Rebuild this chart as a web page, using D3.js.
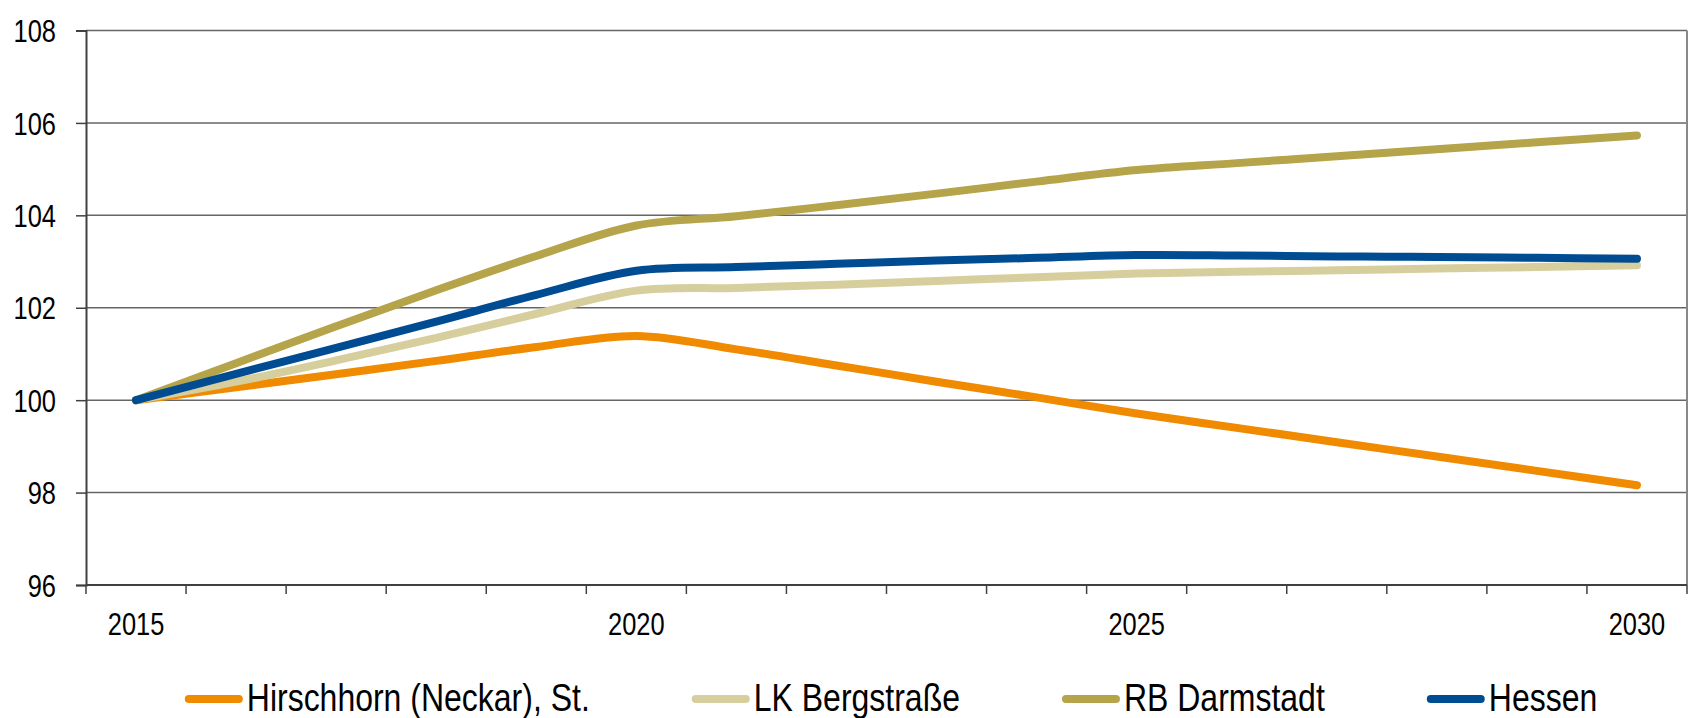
<!DOCTYPE html>
<html>
<head>
<meta charset="utf-8">
<script src="https://cdn.jsdelivr.net/npm/d3@7.8.5/dist/d3.min.js"></script>
<style>
  html, body { margin: 0; padding: 0; background: #fff; }
  svg { display: block; }
  text { font-family: "Liberation Sans", Arial, sans-serif; fill: #000; }
</style>
</head>
<body>
<div id="chart"></div>
<script>
const years = d3.range(2015, 2031);
const tickYears = [2015, 2020, 2025, 2030];
const yTicks = [96, 98, 100, 102, 104, 106, 108];

const seriesNames = ['Hirschhorn (Neckar), St.', 'LK Bergstraße', 'RB Darmstadt', 'Hessen'];
const seriesColors = ['#f08a00', '#d6cf9d', '#b5a44a', '#004c93'];

const hirschhorn = [100, 100.28, 100.56, 100.85, 101.15, 101.39, 101.1, 100.75, 100.4, 100.06, 99.71, 99.4, 99.09, 98.78, 98.47, 98.16];
const bergstrasse = [100, 100.4, 100.86, 101.35, 101.87, 102.37, 102.43, 102.5, 102.58, 102.66, 102.74, 102.78, 102.81, 102.85, 102.88, 102.92];
const darmstadt = [100, 100.8, 101.6, 102.38, 103.12, 103.78, 103.98, 104.22, 104.47, 104.73, 104.98, 105.13, 105.28, 105.43, 105.58, 105.73];
const hessen = [100, 100.57, 101.13, 101.7, 102.28, 102.8, 102.88, 102.95, 103.02, 103.08, 103.14, 103.13, 103.11, 103.1, 103.08, 103.06];

const seriesValues = [hirschhorn, bergstrasse, darmstadt, hessen];

const width = 1690, height = 718;
const margin = { top: 30.5, right: 3, bottom: 133, left: 86 };
const narrow = 0.82; // no narrow font installed, squeeze glyphs instead

const svg = d3.select('#chart')
  .append('svg')
  .attr('width', width)
  .attr('height', height);

function squeeze(sel) {
  sel.each(function () {
    const len = this.getComputedTextLength();
    this.__squeezed = len * narrow;
    d3.select(this)
      .attr('textLength', len * narrow)
      .attr('lengthAdjust', 'spacingAndGlyphs');
  });
}

const x = d3.scaleBand()
  .domain(years)
  .range([margin.left, width - margin.right]);

const y = d3.scaleLinear()
  .domain([96, 108])
  .range([height - margin.bottom, margin.top]);

const cx = d => x(d) + x.bandwidth() / 2;

// grid lines
svg.append('g')
  .selectAll('line')
  .data(yTicks.filter(d => d !== 96))
  .enter()
  .append('line')
  .attr('x1', margin.left)
  .attr('x2', width - margin.right)
  .attr('y1', d => y(d))
  .attr('y2', d => y(d))
  .attr('stroke', '#666')
  .attr('stroke-width', 1.5);

// right border
svg.append('line')
  .attr('x1', width - margin.right)
  .attr('x2', width - margin.right)
  .attr('y1', y(108))
  .attr('y2', y(96))
  .attr('stroke', '#888')
  .attr('stroke-width', 2);

// y axis
const yAxis = d3.axisLeft(y)
  .tickValues(yTicks)
  .tickSize(10)
  .tickPadding(20);

const yg = svg.append('g')
  .attr('transform', `translate(${margin.left},0)`)
  .call(yAxis);
yg.select('.domain').attr('stroke', '#404040').attr('stroke-width', 2);
yg.selectAll('.tick line').attr('stroke', '#404040').attr('stroke-width', 1.5);
yg.selectAll('.tick text')
  .attr('font-family', null)
  .attr('font-size', null)
  .style('font-size', '31px')
  .attr('dy', '0.36em')
  .call(squeeze);

// x axis: ticks at band edges, labels at selected years
const xEdges = years.map(d => x(d)).concat([width - margin.right]);
const xg = svg.append('g');
xg.append('line')
  .attr('x1', margin.left)
  .attr('x2', width - margin.right)
  .attr('y1', y(96))
  .attr('y2', y(96))
  .attr('stroke', '#404040')
  .attr('stroke-width', 2);
xg.selectAll('.xtick')
  .data(xEdges)
  .enter()
  .append('line')
  .attr('class', 'xtick')
  .attr('x1', d => d)
  .attr('x2', d => d)
  .attr('y1', y(96))
  .attr('y2', y(96) + 9)
  .attr('stroke', '#404040')
  .attr('stroke-width', 1.5);
xg.selectAll('.xlabel')
  .data(tickYears)
  .enter()
  .append('text')
  .attr('class', 'xlabel')
  .attr('x', d => cx(d))
  .attr('y', y(96) + 50)
  .attr('text-anchor', 'middle')
  .style('font-size', '31px')
  .text(d => d)
  .call(squeeze);

// lines
const line = d3.line()
  .x((d, i) => cx(years[i]))
  .y(d => y(d))
  .curve(d3.curveCatmullRom.alpha(0.5));

svg.append('g')
  .selectAll('path')
  .data(seriesValues)
  .enter()
  .append('path')
  .attr('d', d => line(d))
  .attr('fill', 'none')
  .attr('stroke', (d, i) => seriesColors[i])
  .attr('stroke-width', 8)
  .attr('stroke-linecap', 'round')
  .attr('stroke-linejoin', 'round');

// legend
const legend = svg.append('g');
const legendY = 699;
let lx = 0;
seriesNames.forEach((name, i) => {
  const item = legend.append('g').attr('transform', `translate(${lx},0)`);
  item.append('line')
    .attr('x1', 4)
    .attr('x2', 54)
    .attr('y1', legendY)
    .attr('y2', legendY)
    .attr('stroke', seriesColors[i])
    .attr('stroke-width', 8)
    .attr('stroke-linecap', 'round');
  const t = item.append('text')
    .attr('x', 62)
    .attr('y', 711)
    .style('font-size', '39px')
    .text(name)
    .call(squeeze);
  lx += 62 + t.node().__squeezed + 102;
});
const legendWidth = lx - 102;
legend.attr('transform', `translate(${891 - legendWidth / 2},0)`);
</script>
</body>
</html>
